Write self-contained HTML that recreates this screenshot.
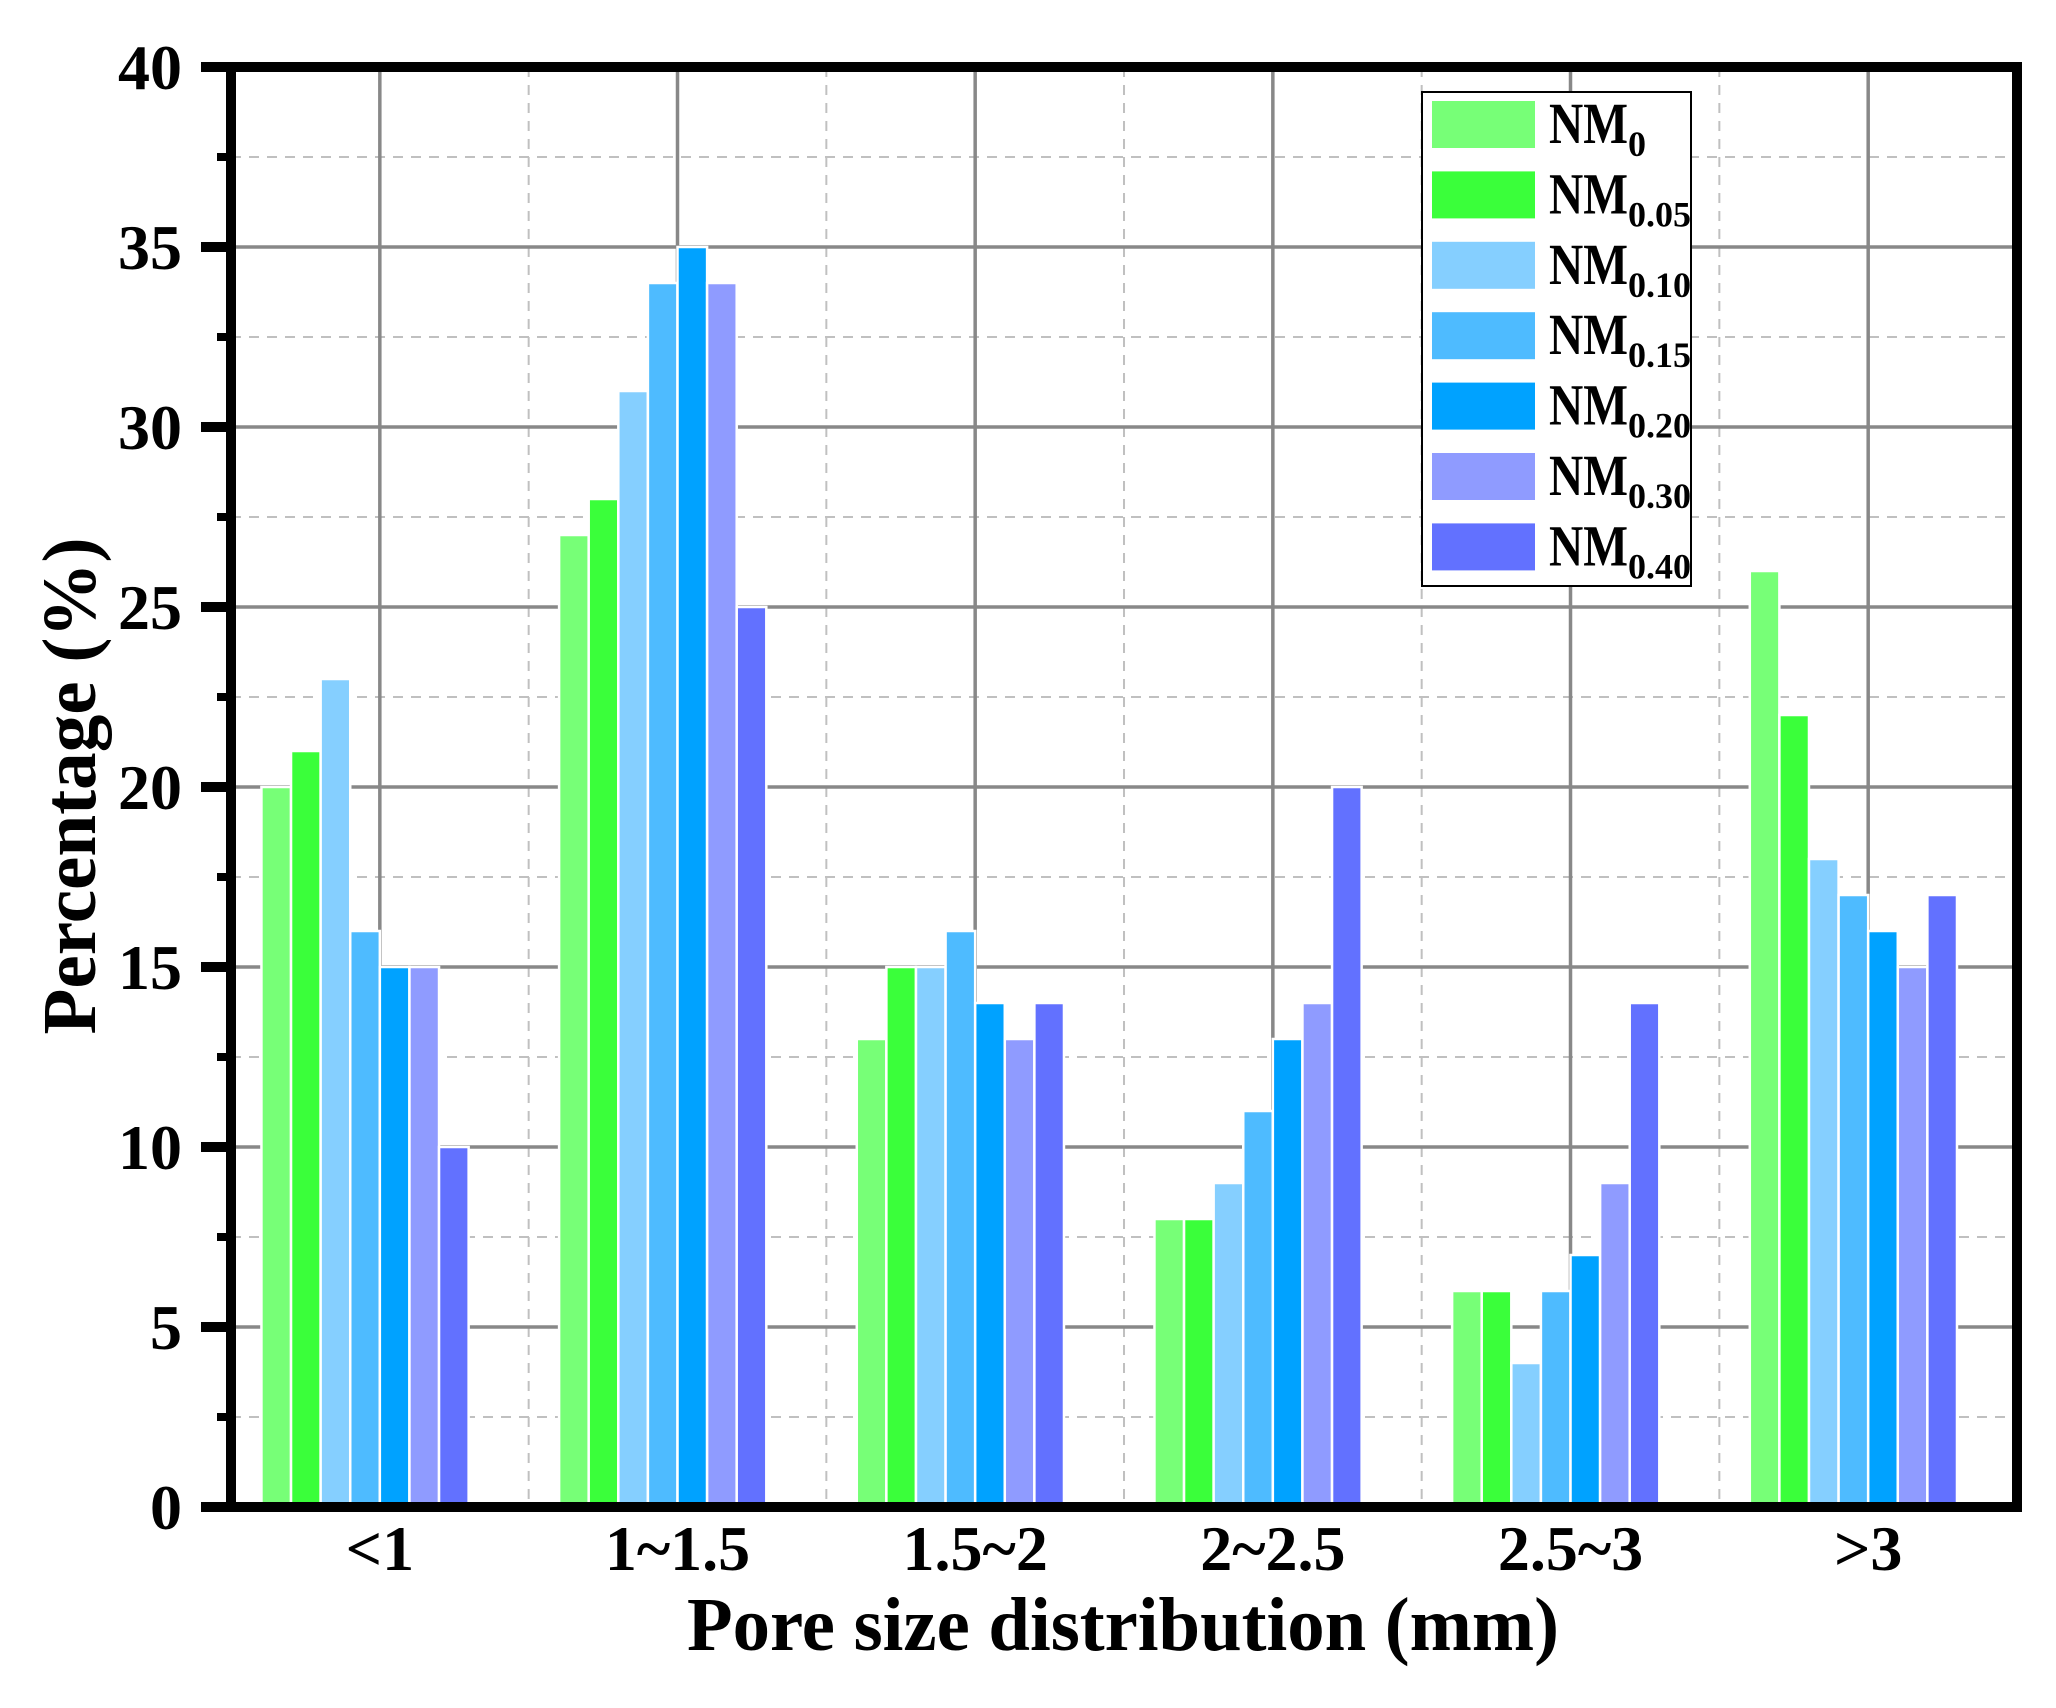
<!DOCTYPE html>
<html><head><meta charset="utf-8"><style>html,body{margin:0;padding:0;background:#fff}svg{display:block}</style></head>
<body>
<svg xmlns="http://www.w3.org/2000/svg" width="2056" height="1708" viewBox="0 0 2056 1708">
<rect width="2056" height="1708" fill="#fff"/>
<g id="grid"></g>
<g id="bars"></g>
<g id="fg"></g>
<script>
(function(){
var NS="http://www.w3.org/2000/svg";
function el(p,t,a,txt){var e=document.createElementNS(NS,t);for(var k in a)e.setAttribute(k,a[k]);if(txt!==undefined)e.textContent=txt;p.appendChild(e);return e;}
var L=231,R=2017,T=67,B=1507,U=36,S=297.67;
function Y(v){return B-v*U;}
var grid=document.getElementById('grid'),bars=document.getElementById('bars'),fg=document.getElementById('fg');
for(var v=2.5;v<40;v+=5){el(grid,'line',{x1:L,x2:R,y1:Y(v),y2:Y(v),stroke:'#c0c0c0','stroke-width':2,'stroke-dasharray':'10,8'});}
for(var i=1;i<6;i++){var x=L+i*S;el(grid,'line',{x1:x,x2:x,y1:T,y2:B,stroke:'#c0c0c0','stroke-width':2,'stroke-dasharray':'10,8'});}
for(var v=5;v<40;v+=5){el(grid,'line',{x1:L,x2:R,y1:Y(v),y2:Y(v),stroke:'#888','stroke-width':3.5});}
var cats=['<1','1~1.5','1.5~2','2~2.5','2.5~3','>3'];
for(var i=0;i<6;i++){var x=L+S/2+i*S;el(grid,'line',{x1:x,x2:x,y1:T,y2:B,stroke:'#888','stroke-width':3.5});}
var data=[[20,21,23,16,15,15,10],[27,28,31,34,35,34,25],[13,15,15,16,14,13,14],[8,8,9,11,13,14,20],[6,6,4,6,7,9,14],[26,22,18,17,16,15,17]];
var cols=['#77ff77','#3aff3a','#85cfff','#4ebbff','#00a2ff','#8f9bff','#6271ff'];
var bw=29.6;
for(var i=0;i<6;i++){var c=L+S/2+i*S,x0=c-4*bw;
 for(var j=0;j<7;j++){var v=data[i][j];
  el(bars,'rect',{x:x0+j*bw,y:Y(v),width:bw,height:v*U,fill:cols[j],stroke:'#fff','stroke-width':2.5});}
 el(fg,'text',{x:c,y:1570,'text-anchor':'middle','font-family':'Liberation Serif, serif','font-weight':'bold','font-size':64},cats[i]);
}
el(fg,'line',{x1:L,x2:L,y1:T-5,y2:B+5,stroke:'#000','stroke-width':10});
el(fg,'line',{x1:R,x2:R,y1:T-5,y2:B+5,stroke:'#000','stroke-width':10});
el(fg,'line',{x1:201,x2:R+5,y1:T,y2:T,stroke:'#000','stroke-width':10});
el(fg,'line',{x1:201,x2:R+5,y1:B,y2:B,stroke:'#000','stroke-width':10});
for(var v=0;v<=40;v+=2.5){var maj=(v%5===0);
 el(fg,'line',{x1:maj?201:217,x2:L,y1:Y(v),y2:Y(v),stroke:'#000','stroke-width':maj?10:8});
 if(maj)el(fg,'text',{x:182,y:Y(v)+22,'text-anchor':'end','font-family':'Liberation Serif, serif','font-weight':'bold','font-size':64},String(v));}
el(fg,'text',{x:1123,y:1650,'text-anchor':'middle','font-family':'Liberation Serif, serif','font-weight':'bold','font-size':76,textLength:872,lengthAdjust:'spacingAndGlyphs'},'Pore size distribution (mm)');
el(fg,'text',{x:0,y:0,transform:'translate(95,786) rotate(-90)','text-anchor':'middle','font-family':'Liberation Serif, serif','font-weight':'bold','font-size':76,textLength:497,lengthAdjust:'spacingAndGlyphs'},'Percentage (%)');
el(fg,'rect',{x:1422,y:92,width:269,height:494,fill:'#fff',stroke:'#000','stroke-width':2});
var labs=['0','0.05','0.10','0.15','0.20','0.30','0.40'];
for(var j=0;j<7;j++){var y=101+j*70.4;
 el(fg,'rect',{x:1432,y:y,width:103,height:47,fill:cols[j]});
 var t=el(fg,'text',{x:1549,y:y+42,'font-family':'Liberation Serif, serif','font-weight':'bold','font-size':58});
 el(t,'tspan',{textLength:79,lengthAdjust:'spacingAndGlyphs'},'NM');
 el(t,'tspan',{'font-size':36,dy:13},labs[j]);
}
})();
</script>
</svg>
</body></html>
